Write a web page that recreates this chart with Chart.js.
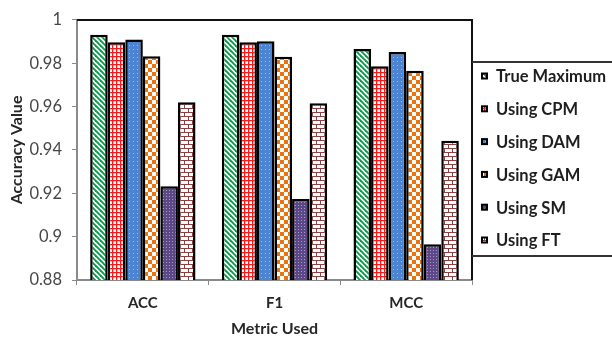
<!DOCTYPE html>
<html>
<head>
<meta charset="utf-8">
<script src="https://cdn.jsdelivr.net/npm/chart.js@4/dist/chart.umd.min.js"></script>
<style>
  html, body { margin: 0; padding: 0; background: #fff; }
  #wrap { width: 612px; height: 344px; position: relative; }
</style>
</head>
<body>
<div id="wrap"><canvas id="c" width="612" height="344"></canvas></div>
<script>
// Metrics on the x axis
const metrics = ['ACC', 'F1', 'MCC'];
// Series names
const seriesNames = ['True Maximum', 'Using CPM', 'Using DAM', 'Using GAM', 'Using SM', 'Using FT'];
// Accuracy values per metric
const trueMaximum = [0.9932, 0.9932, 0.9866];
const usingCPM    = [0.9897, 0.9897, 0.9786];
const usingDAM    = [0.9910, 0.9902, 0.9852];
const usingGAM    = [0.9832, 0.9830, 0.9765];
const usingSM     = [0.9232, 0.9174, 0.8965];
const usingFT     = [0.9620, 0.9615, 0.9443];
// Value axis range and step
const yMin = 0.88, yMax = 1, yStep = 0.02;

const seriesValues = [trueMaximum, usingCPM, usingDAM, usingGAM, usingSM, usingFT];

const baseCtx = document.getElementById('c').getContext('2d');
function tile(w, h, draw) {
  const cv = document.createElement('canvas');
  cv.width = w; cv.height = h;
  const g = cv.getContext('2d');
  draw(g, w, h);
  return baseCtx.createPattern(cv, 'repeat');
}

// Fill patterns for each series
const patterns = [
  // green diagonal stripes
  tile(5, 5, (g, w, h) => {
    g.fillStyle = '#fff'; g.fillRect(0, 0, w, h);
    g.strokeStyle = '#0a9a4a'; g.lineWidth = 1.9;
    for (const o of [-w, 0, w]) {
      g.beginPath(); g.moveTo(o - 1, -1); g.lineTo(o + w + 1, h + 1); g.stroke();
    }
  }),
  // red grid
  tile(4, 4, (g, w, h) => {
    g.fillStyle = '#fff'; g.fillRect(0, 0, w, h);
    g.fillStyle = '#f21c1c';
    g.fillRect(0, 0, w, 1.3); g.fillRect(0, 0, 1.3, h);
  }),
  // blue with light dots
  tile(4, 4, (g, w, h) => {
    g.fillStyle = '#4a84d2'; g.fillRect(0, 0, w, h);
    g.fillStyle = '#9fbde8'; g.fillRect(1, 1, 1, 1);
  }),
  // orange checkerboard
  tile(8, 8, (g, w, h) => {
    g.fillStyle = '#fff'; g.fillRect(0, 0, w, h);
    g.fillStyle = '#e8730f';
    g.fillRect(0, 0, 4, 4); g.fillRect(4, 4, 4, 4);
  }),
  // purple fine dots
  tile(3, 3, (g, w, h) => {
    g.fillStyle = '#5c4787'; g.fillRect(0, 0, w, h);
    g.fillStyle = '#a89ac6'; g.fillRect(1, 1, 1, 1);
  }),
  // brown bricks
  tile(8, 8, (g, w, h) => {
    g.fillStyle = '#fff'; g.fillRect(0, 0, w, h);
    g.fillStyle = '#8e4040';
    g.fillRect(0, 0, w, 1); g.fillRect(0, 4, w, 1);
    g.fillRect(0, 0, 1, 4); g.fillRect(4, 4, 1, 4);
  })
];

const datasets = seriesNames.map((name, i) => ({
  label: name,
  data: seriesValues[i],
  backgroundColor: patterns[i],
  borderColor: '#000',
  borderWidth: 2.5,
  borderSkipped: false,
  categoryPercentage: 0.8,
  barPercentage: 1
}));

// Frame on top/right of the plot plus the boxed legend on the right
const framePlugin = {
  id: 'frameAndLegend',
  afterDraw(chart) {
    const { ctx, chartArea: a } = chart;
    ctx.save();
    ctx.strokeStyle = '#111';
    ctx.lineWidth = 2;
    ctx.beginPath();
    ctx.moveTo(a.left, a.top);
    ctx.lineTo(a.right, a.top);
    ctx.lineTo(a.right, a.bottom);
    ctx.stroke();

    // legend box
    const boxTop = 62, boxBottom = 256;
    ctx.strokeStyle = '#333';
    ctx.beginPath();
    ctx.moveTo(a.right, boxTop); ctx.lineTo(612, boxTop);
    ctx.moveTo(a.right, boxBottom); ctx.lineTo(612, boxBottom);
    ctx.stroke();

    const firstY = 76, gap = 32.8;
    ctx.font = 'bold 16.5px Lato';
    ctx.textBaseline = 'middle';
    ctx.textAlign = 'left';
    chart.data.datasets.forEach((ds, i) => {
      const y = firstY + i * gap;
      const sx = 481, s = 7;
      ctx.fillStyle = '#000';
      ctx.fillRect(sx, y - s / 2, s, s);
      ctx.fillStyle = ds.backgroundColor;
      ctx.fillRect(sx + 2, y - s / 2 + 2, s - 4, s - 4);
      ctx.fillStyle = '#1e1e1e';
      ctx.fillText(ds.label, 496, y + 1);
    });
    ctx.restore();
  }
};

new Chart(baseCtx, {
  type: 'bar',
  data: { labels: metrics, datasets },
  options: {
    responsive: false,
    animation: false,
    devicePixelRatio: 1,
    layout: { padding: { top: 12, right: 140, left: 0, bottom: 0 } },
    plugins: {
      legend: { display: false },
      tooltip: { enabled: false }
    },
    scales: {
      x: {
        grid: { drawOnChartArea: false, drawTicks: true, tickLength: 5, color: '#8a8a8a', offset: true },
        border: { color: '#8a8a8a', width: 2 },
        ticks: { color: '#262626', font: { family: 'Lato', size: 15, weight: 'bold' }, padding: 9 },
        title: { display: true, text: 'Metric Used', color: '#262626',
                 font: { family: 'Lato', size: 16, weight: 'bold' }, padding: { top: 0, bottom: 6 } },
        afterFit(scale) { scale.height = 64; }
      },
      y: {
        min: yMin, max: yMax,
        grid: { drawOnChartArea: false, drawTicks: true, tickLength: 5, color: '#8a8a8a' },
        border: { color: '#8a8a8a', width: 2 },
        ticks: {
          stepSize: yStep,
          color: '#474747',
          font: { family: 'Lato', size: 16.5 },
          padding: 10,
          callback: v => String(+Number(v).toFixed(2))
        },
        title: { display: true, text: 'Accuracy Value', color: '#262626',
                 font: { family: 'Lato', size: 16, weight: 'bold' }, padding: { top: 7, bottom: 0 } },
        afterFit(scale) { scale.width = 77; }
      }
    }
  },
  plugins: [framePlugin]
});
</script>
</body>
</html>
